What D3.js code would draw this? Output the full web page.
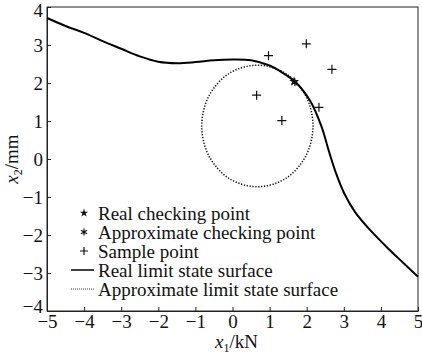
<!DOCTYPE html>
<html lang="en">
<head>
<meta charset="UTF-8">
<title>Limit state surface</title>
<script src="https://d3js.org/d3.v7.min.js"></script>
<style>
    body { margin: 0; background: #fff; }
    svg, svg text { font-family: "Times New Roman", "Liberation Serif", "DejaVu Serif", serif; }
</style>
</head>
<body>
<div id="chart"></div>
<script>
// real limit state surface
var realX = [-5, -4.5, -4, -3.5, -3, -2.5, -2, -1.5, -1, -0.5, 0, 0.5, 1, 1.3, 1.7, 2.1, 2.4, 2.6, 2.8, 3.0, 3.3, 3.7, 4.2, 4.6, 5];
var realY = [3.71, 3.5, 3.32, 3.1, 2.9, 2.7, 2.56, 2.52, 2.55, 2.6, 2.62, 2.6, 2.46, 2.3, 2.02, 1.52, 0.85, 0.2, -0.4, -0.88, -1.39, -1.86, -2.36, -2.73, -3.1];

// approximate limit state surface (closed loop)
var approxX = [2.17, 1.97, 1.42, 0.67, -0.08, -0.63, -0.83, -0.63, -0.08, 0.67, 1.42, 1.97];
var approxY = [0.87, 1.67, 2.26, 2.47, 2.26, 1.67, 0.87, 0.07, -0.52, -0.73, -0.52, 0.07];

// sample points
var sampleX = [0.97, 1.99, 2.68, 0.65, 1.33, 2.33];
var sampleY = [2.72, 3.03, 2.36, 1.68, 1.01, 1.36];

// checking points
var realCheck = [1.66, 2.04];
var approxCheck = [1.68, 2.02];

var xTicks = [-5, -4, -3, -2, -1, 0, 1, 2, 3, 4, 5];
var yTicks = [-4, -3, -2, -1, 0, 1, 2, 3, 4];

var legendNames = ["Real checking point", "Approximate checking point", "Sample point", "Real limit state surface", "Approximate limit state surface"];

var W = 422, H = 354;
var margin = {left: 47, right: 4, top: 7, bottom: 43};
var FONT = "'Times New Roman', 'Liberation Serif', serif";

var svg = d3.select("#chart").append("svg")
    .attr("width", W)
    .attr("height", H);

var x = d3.scaleLinear().domain([-5, 5]).range([margin.left, W - margin.right]);
var y = d3.scaleLinear().domain([-4, 4]).range([H - margin.bottom, margin.top]);

var fs = 19;

// box
svg.append("rect")
    .attr("x", x(-5)).attr("y", y(4))
    .attr("width", x(5) - x(-5)).attr("height", y(-4) - y(4))
    .attr("fill", "none").attr("stroke", "#222").attr("stroke-width", 1);

var xAxis = svg.append("g")
    .attr("transform", "translate(0," + y(-4) + ")")
    .call(d3.axisBottom(x).tickValues(xTicks).tickSizeInner(-4).tickSizeOuter(0).tickPadding(3)
        .tickFormat(d => d < 0 ? "\u2212" + Math.abs(d) : d));
var yAxis = svg.append("g")
    .attr("transform", "translate(" + x(-5) + ",0)")
    .call(d3.axisLeft(y).tickValues(yTicks).tickSizeInner(-4).tickSizeOuter(0).tickPadding(4)
        .tickFormat(d => d < 0 ? "\u2212" + Math.abs(d) : d));

[xAxis, yAxis].forEach(function(a) {
    a.attr("font-family", null).attr("font-size", null);
    a.select(".domain").attr("stroke", "#222");
    a.selectAll(".tick line").attr("stroke", "#222");
    a.selectAll(".tick text")
        .attr("fill", "#111")
        .style("font-family", FONT)
        .style("font-size", fs + "px");
});
xAxis.selectAll(".tick text").attr("dy", "0.72em");
yAxis.selectAll(".tick text").attr("dy", "0.34em");
// keep the top and bottom labels inside / clear of neighbours
yAxis.selectAll(".tick text").filter(d => d === 4).attr("dy", "0.5em");
yAxis.selectAll(".tick text").filter(d => d === -4).attr("dy", "0.1em");

// axis titles
var xt = svg.append("text")
    .attr("x", x(0) + 4).attr("y", 348)
    .attr("text-anchor", "middle")
    .style("font-family", FONT)
    .style("font-size", fs + "px").attr("fill", "#111");
xt.append("tspan").style("font-style", "italic").text("x");
xt.append("tspan").attr("dy", 4).style("font-size", "12px").text("1");
xt.append("tspan").attr("dy", -4).text("/kN");

var yt = svg.append("text")
    .attr("transform", "translate(18," + y(0) + ") rotate(-90)")
    .attr("text-anchor", "middle")
    .style("font-family", FONT)
    .style("font-size", fs + "px").attr("fill", "#111");
yt.append("tspan").style("font-style", "italic").text("x");
yt.append("tspan").attr("dy", 4).style("font-size", "12px").text("2");
yt.append("tspan").attr("dy", -4).text("/mm");

var plot = svg.append("g");

// approximate surface
var approxPts = approxX.map((d, i) => [d, approxY[i]]);
plot.append("path")
    .datum(approxPts)
    .attr("d", d3.line().x(d => x(d[0])).y(d => y(d[1])).curve(d3.curveCatmullRomClosed))
    .attr("fill", "none")
    .attr("stroke", "#111")
    .attr("stroke-width", 1.5)
    .attr("stroke-dasharray", "1.3,1.6");

// real surface
var realPts = realX.map((d, i) => [d, realY[i]]);
plot.append("path")
    .datum(realPts)
    .attr("d", d3.line().x(d => x(d[0])).y(d => y(d[1])).curve(d3.curveCatmullRom))
    .attr("fill", "none")
    .attr("stroke", "#000")
    .attr("stroke-width", 2);

// marker helpers
function plus(sel, cx, cy, s) {
    sel.append("path")
        .attr("d", "M" + (cx - s) + "," + cy + "H" + (cx + s) + "M" + cx + "," + (cy - s) + "V" + (cy + s))
        .attr("stroke", "#111").attr("stroke-width", 1.2).attr("fill", "none");
}
function asterisk(sel, cx, cy, s) {
    var d = "";
    for (var k = 0; k < 3; k++) {
        var a = k * Math.PI / 3 + Math.PI / 2;
        d += "M" + (cx - s * Math.cos(a)) + "," + (cy - s * Math.sin(a)) + "L" + (cx + s * Math.cos(a)) + "," + (cy + s * Math.sin(a));
    }
    sel.append("path").attr("d", d).attr("stroke", "#111").attr("stroke-width", 1.2).attr("fill", "none");
}
function star(sel, cx, cy, size) {
    sel.append("path")
        .attr("d", d3.symbol().type(d3.symbolStar).size(size)())
        .attr("transform", "translate(" + cx + "," + cy + ")")
        .attr("fill", "#111");
}

sampleX.forEach(function(d, i) { plus(plot, x(d), y(sampleY[i]), 4.5); });
asterisk(plot, x(approxCheck[0]), y(approxCheck[1]), 4);
star(plot, x(realCheck[0]), y(realCheck[1]), 30);

// legend
var lg = svg.append("g");
var rowY = [213, 232, 251, 270, 289];
var symX = 84, textX = 98;
legendNames.forEach(function(name, i) {
    lg.append("text")
        .attr("x", textX).attr("y", rowY[i])
        .attr("dy", "0.35em")
        .style("font-family", FONT)
        .style("font-size", fs + "px")
        .attr("fill", "#111")
        .text(name);
});
star(lg, symX, rowY[0], 22);
asterisk(lg, symX, rowY[1], 3.5);
plus(lg, symX, rowY[2], 4);
lg.append("line").attr("x1", 71).attr("x2", 94).attr("y1", rowY[3]).attr("y2", rowY[3])
    .attr("stroke", "#000").attr("stroke-width", 1.5);
lg.append("line").attr("x1", 71).attr("x2", 94).attr("y1", rowY[4]).attr("y2", rowY[4])
    .attr("stroke", "#444").attr("stroke-width", 1).attr("stroke-dasharray", "1,1");
</script>
</body>
</html>
